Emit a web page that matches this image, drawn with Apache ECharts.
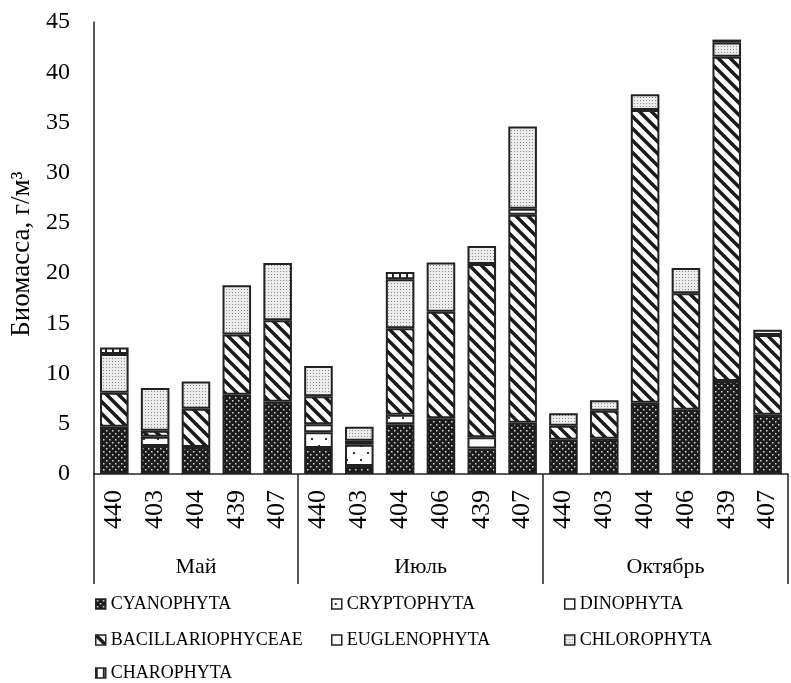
<!DOCTYPE html>
<html><head><meta charset="utf-8">
<script src="https://cdn.jsdelivr.net/npm/echarts@6/dist/echarts.min.js"></script>
<style>html,body{margin:0;padding:0;background:#fff}#c{width:791px;height:683px}</style>
</head><body><div id="c"></div>
<script>
// ---- data ----
const stations = ['440','403','404','439','407','440','403','404','406','439','407','440','403','404','406','439','407'];
const months = ['Май','Июль','Октябрь'];
const monthStarts = [0,5,11,17];
const monthCenters = [2.5,8,14];
const seriesNames = ['CYANOPHYTA','CRYPTOPHYTA','DINOPHYTA','BACILLARIOPHYCEAE','EUGLENOPHYTA','CHLOROPHYTA','CHAROPHYTA'];
const cyanophyta        = [4.7, 2.8, 2.7, 7.9, 7.2,  2.6, 0.8, 4.95, 5.55, 2.55, 5.1,  3.4, 3.5, 7.1, 6.4, 9.25, 5.9];
const cryptophyta       = [null,0.9,null,null,null,  1.55,2.1, 0.95,null, null, null, null,null,null,null,null,null];
const dinophyta         = [null,null,null,null,null, 0.8, null,null,null, 1.1,  null, null,null,null,null,null,null];
const bacillariophyceae = [3.4, 0.6, 3.8, 6.0, 8.1,  2.8, 0.4, 8.6, 10.6, 17.25,20.7, 1.4, 2.8, 29.15,11.6,32.3,7.95];
const euglenophyta      = [null,null,null,null,null, null,null,null,null, null, 0.6,  null,null,null,null,null,null];
const chlorophyta       = [3.85,4.25,2.7,4.9, 5.7,  3.0, 1.4, 4.9, 4.9,  1.8,  8.2,  1.25,1.05,1.55,2.5, 1.4, 0.5];
const charophyta        = [0.65,null,null,null,null, null,null,0.7, null, null, null, null,null,null,null,0.3, null];
const yTicks = {min:0, max:45, interval:5};

// ---- patterns ----
function pat(w,h,draw){const c=document.createElement('canvas');c.width=w;c.height=h;const g=c.getContext('2d');draw(g,w,h);return {image:c,repeat:'repeat'};}
const pCyan = pat(6,6,(g)=>{g.fillStyle='#1c1c1c';g.fillRect(0,0,6,6);g.fillStyle='#d8d8d8';g.fillRect(1,1,1.5,1.5);g.fillRect(4,4,1.5,1.5);});
const pCrypto = pat(14,14,(g)=>{g.fillStyle='#fff';g.fillRect(0,0,14,14);g.fillStyle='#333';g.fillRect(3,4,2,2);g.fillRect(10,11,2,2);});
const pWhite = pat(4,4,(g)=>{g.fillStyle='#fff';g.fillRect(0,0,4,4);});
const pBac = pat(12,12,(g)=>{g.fillStyle='#fff';g.fillRect(0,0,12,12);g.strokeStyle='#1a1a1a';g.lineWidth=3.5;
  g.beginPath();g.moveTo(-3,-3);g.lineTo(15,15);g.moveTo(-15,-3);g.lineTo(3,15);g.moveTo(9,-3);g.lineTo(27,15);g.stroke();});
const pChlo = pat(3,3,(g)=>{g.fillStyle='#ececec';g.fillRect(0,0,3,3);g.fillStyle='#8a8a8a';g.fillRect(1,1,1,1);});
const pCharo = pat(7,7,(g)=>{g.fillStyle='#fff';g.fillRect(0,0,7,7);g.fillStyle='#222';g.fillRect(0,0,2,7);});
const fills = [pCyan,pCrypto,pWhite,pBac,pWhite,pChlo,pCharo];
const values = [cyanophyta,cryptophyta,dinophyta,bacillariophyceae,euglenophyta,chlorophyta,charophyta];

const FONT = "'Liberation Serif','Times New Roman',serif";
const chart = echarts.init(document.getElementById('c'), null, {renderer:'canvas'});
const series = seriesNames.map((n,i)=>({
  name:n, type:'bar', stack:'s', xAxisIndex:0, yAxisIndex:0, barWidth:'70%',
  data: values[i],
  itemStyle:{color:fills[i], borderColor:'#222', borderWidth:2},
  emphasis:{disabled:true}, animation:false
}));
// legend grid: 3 columns, 3 rows
const legendCols = [95, 331, 564];
const legendRows = [595, 631, 664];
const legendOrder = [[0,0],[0,1],[0,2],[1,0],[1,1],[1,2],[2,0]]; // [row, col] per series
const legends = seriesNames.map((n,i)=>({
  left: legendCols[legendOrder[i][1]], top: legendRows[legendOrder[i][0]], padding:0,
  itemWidth:10, itemHeight:10, icon:'rect', data:[n], selectedMode:false,
  itemStyle:{borderWidth:1.5},
  textStyle:{fontFamily:FONT, fontSize:18, color:'#000'}
}));
chart.setOption({
  animation:false,
  grid:{left:91, right:3, top:22, bottom:209, containLabel:false},
  xAxis:[
    {type:'category', data: stations.map((s,i)=>i), gridIndex:0, position:'bottom',
     axisLine:{show:true, lineStyle:{color:'#222', width:1.5}}, axisTick:{show:false},
     axisLabel:{rotate:90, margin:16, interval:0, fontFamily:FONT, fontSize:26, color:'#000', formatter:(v)=>stations[+v]}},
    {type:'value', min:0, max:17, gridIndex:0, position:'bottom',
     axisLine:{show:false}, splitLine:{show:false},
     axisTick:{show:true, customValues:monthStarts, length:110, inside:false, lineStyle:{color:'#222', width:1.5}},
     axisLabel:{customValues:monthCenters, margin:82, fontFamily:FONT, fontSize:22, color:'#000',
       formatter:(v)=>months[monthCenters.indexOf(v)]}}
  ],
  yAxis:{type:'value', min:yTicks.min, max:yTicks.max, interval:yTicks.interval,
    name:'Биомасса, г/м³', nameLocation:'middle', nameGap:55, nameRotate:90,
    nameTextStyle:{fontFamily:FONT, fontSize:27, color:'#000', padding:[0,0,0,-12]},
    axisLine:{show:true, lineStyle:{color:'#222', width:1.5}}, axisTick:{show:false}, splitLine:{show:false},
    axisLabel:{fontFamily:FONT, fontSize:24, color:'#000', margin:24}},
  legend: legends,
  series: series
});
</script></body></html>
